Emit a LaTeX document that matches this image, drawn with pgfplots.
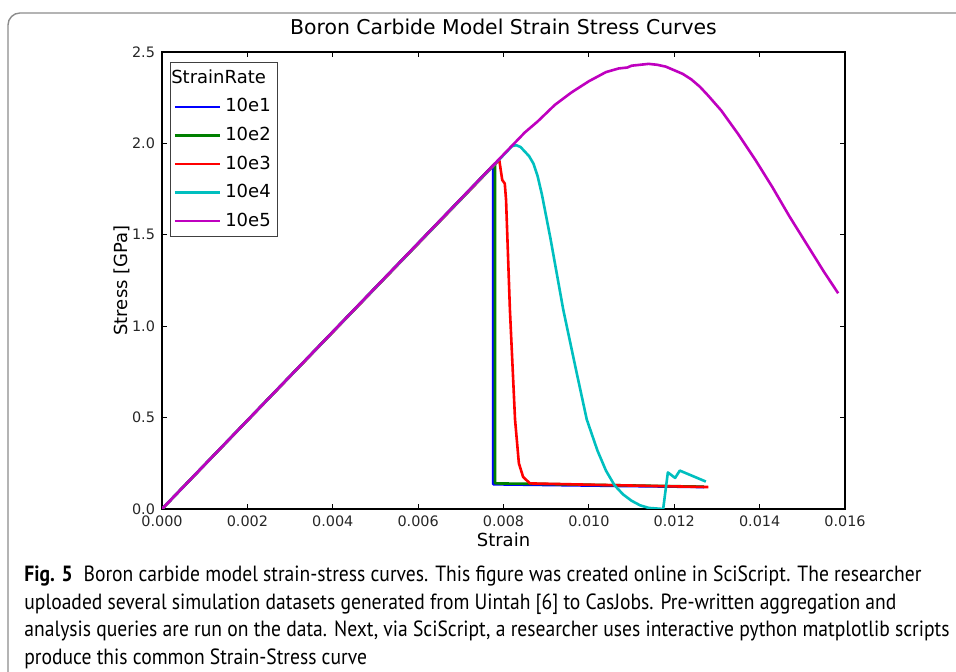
\documentclass[border=0pt]{standalone}
\usepackage{fontspec}
\setmainfont{DejaVu Sans}
\newfontfamily\capfont[FakeStretch=0.89]{PT Sans}
\usepackage{pgfplots}
\pgfplotsset{compat=1.18}
\definecolor{mplb}{rgb}{0,0,1}
\definecolor{mplg}{rgb}{0,0.5,0}
\definecolor{mplr}{rgb}{1,0,0}
\definecolor{mplc}{rgb}{0,0.75,0.75}
\definecolor{mplm}{rgb}{0.75,0,0.75}
\begin{document}
\begin{tikzpicture}
\path[use as bounding box] (0pt,0pt) rectangle (478pt,336pt);
\draw[black!45, line width=0.7pt, rounded corners=6pt] (4pt,-5pt) -- (4pt,329.5pt) -- (485pt,329.5pt);
\begin{axis}[
  at={(81pt,81.5pt)}, anchor=south west,
  scale only axis, width=341.5pt, height=228.5pt,
  xmin=0, xmax=0.016, ymin=0, ymax=2.5,
  xtick={0,0.002,0.004,0.006,0.008,0.010,0.012,0.014,0.016},
  ytick={0,0.5,1.0,1.5,2.0,2.5},
  scaled x ticks=false, scaled y ticks=false,
  xticklabel style={/pgf/number format/.cd, fixed, fixed zerofill, precision=3, assume math mode=true},
  yticklabel style={/pgf/number format/.cd, fixed, fixed zerofill, precision=1, assume math mode=true},
  tick label style={font=\fontsize{7.2}{8}\selectfont, text=black!85},
  tick align=inside, tick pos=both, major tick length=2.5pt,
  tick style={black, line width=0.4pt},
  axis line style={line width=1.3pt},
  title={Boron Carbide Model Strain Stress Curves},
  title style={at={(axis description cs:0.5,1)}, anchor=base, yshift=2.5pt, font=\fontsize{10.2}{12}\selectfont},
  xlabel={Strain},
  xlabel style={at={(axis description cs:0.5,0)}, anchor=base, yshift=-19pt, font=\fontsize{9}{10}\selectfont},
  ylabel={Stress [GPa]},
  ylabel style={at={([xshift=-20pt]axis description cs:0,0.5)}, anchor=center, font=\fontsize{9}{10}\selectfont},
  legend style={at={(0.0117,0.978)}, anchor=north west, draw=black!75, line width=0.5pt,
    font=\fontsize{9}{10.8}\selectfont, inner sep=1.6pt, row sep=2.1pt, fill=white},
  legend cell align=left,
  legend image code/.code={\path (0pt,0pt) -- (22.5pt,0pt); \draw[#1] (2.5pt,0pt) -- (16.5pt,0pt);},
  every axis plot/.append style={line width=1.3pt, line join=round},
]
\addlegendimage{empty legend}
\addlegendentry{\hspace*{-27pt}StrainRate}
\addplot[mplb] coordinates {(0,0) (0.00776,1.88) (0.00776,0.135) (0.0127,0.12)};
\addlegendentry{10e1}
\addplot[mplg] coordinates {(0,0) (0.00780,1.89) (0.00780,0.14) (0.0086,0.138) (0.0127,0.122)};
\addlegendentry{10e2}
\addplot[mplr] coordinates {(0,0) (0.0079,1.91) (0.00797,1.80) (0.00803,1.78) (0.00806,1.69) (0.00815,1.09) (0.00827,0.49) (0.00836,0.25) (0.00846,0.175) (0.00862,0.14) (0.0100,0.133) (0.0128,0.12)};
\addlegendentry{10e3}
\addplot[mplc] coordinates {(0,0) (0.0081,1.96) (0.0082,1.985) (0.0083,1.99) (0.0084,1.98) (0.0086,1.93) (0.0087,1.89) (0.0088,1.82) (0.0089,1.72) (0.0091,1.48) (0.0094,1.09) (0.0097,0.76) (0.00995,0.49) (0.0102,0.32) (0.0104,0.21) (0.0106,0.13) (0.0108,0.08) (0.0110,0.045) (0.0112,0.02) (0.0114,0.006) (0.01174,0.0) (0.01185,0.20) (0.01202,0.17) (0.01213,0.21) (0.01274,0.15)};
\addlegendentry{10e4}
\addplot[mplm] coordinates {(0,0) (0.0085,2.06) (0.0088,2.12) (0.0092,2.21) (0.0096,2.28) (0.0100,2.34) (0.0104,2.39) (0.0107,2.41) (0.0109,2.415) (0.0110,2.425) (0.0112,2.43) (0.0114,2.435) (0.0116,2.43) (0.0118,2.42) (0.0120,2.40) (0.0122,2.38) (0.0124,2.35) (0.0126,2.31) (0.0128,2.26) (0.0131,2.18) (0.0135,2.05) (0.0139,1.91) (0.0143,1.76) (0.0147,1.60) (0.0151,1.45) (0.0155,1.30) (0.01584,1.18)};
\addlegendentry{10e5}
\end{axis}
\begin{scope}[every node/.style={anchor=base west, inner sep=0pt, font=\capfont\fontsize{11}{13}\selectfont}]
\node at (12pt,45pt) {\textbf{Fig. 5}\enspace Boron carbide model strain-stress curves. This figure was created online in SciScript. The researcher};
\node at (12pt,31.25pt) {uploaded several simulation datasets generated from Uintah [6] to CasJobs. Pre-written aggregation and};
\node at (12pt,17.5pt) {analysis queries are run on the data. Next, via SciScript, a researcher uses interactive python matplotlib scripts};
\node at (12pt,3.9pt) {produce this common Strain-Stress curve};
\end{scope}
\end{tikzpicture}
\end{document}
